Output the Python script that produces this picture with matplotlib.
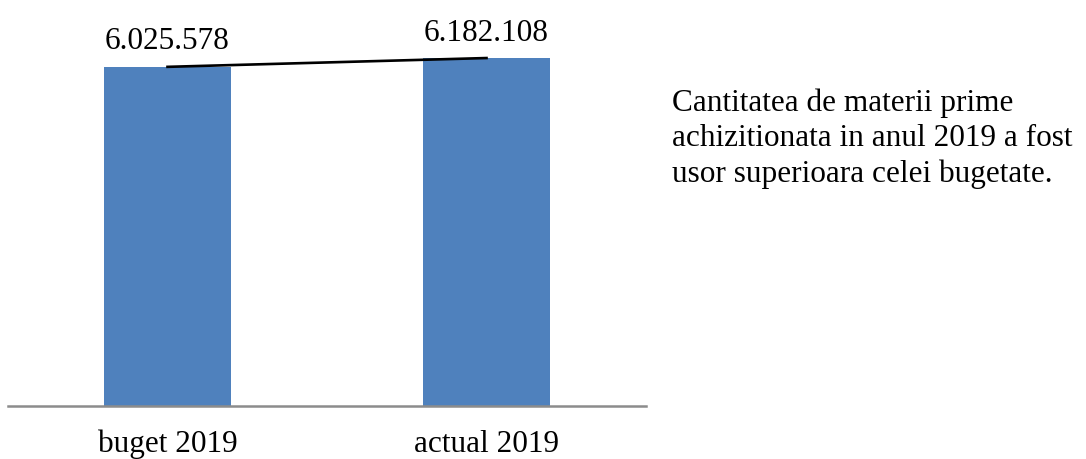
import matplotlib
matplotlib.use("Agg")
import matplotlib.pyplot as plt

# date
categorii = ["buget 2019", "actual 2019"]
valori = [6025578, 6182108]
etichete = ["6.025.578", "6.182.108"]
comentariu = ("Cantitatea de materii prime\n"
              "achizitionata in anul 2019 a fost\n"
              "usor superioara celei bugetate.")

plt.rcParams["font.family"] = ["Liberation Serif", "DejaVu Serif"]

fig = plt.figure(figsize=(10.86, 4.59), dpi=100)
W, H = 1086, 459
ax = fig.add_axes([8 / W, (H - 406) / H, (646 - 8) / W, 394 / H])

x = range(len(categorii))
ax.bar(x, valori, width=0.4, color="#4F81BD", zorder=2)
ax.plot(list(x), valori, color="black", linewidth=1.9, zorder=3)

for i, (v, t) in enumerate(zip(valori, etichete)):
    ax.annotate(t, (i, v), xytext=(0, 12.5), textcoords="offset points",
                ha="center", va="baseline", fontsize=22.5)

ax.set_xlim(-0.5, 1.5)
ax.set_ylim(0, 7000000)
ax.set_xticks(list(x))
ax.set_xticklabels(categorii, fontsize=22.5)
ax.tick_params(axis="x", length=0, pad=17)
ax.set_yticks([])
for s in ["top", "right", "left"]:
    ax.spines[s].set_visible(False)
ax.spines["bottom"].set_color("#8C8C8C")
ax.spines["bottom"].set_linewidth(1.8)

fig.text(672 / W, 1 - 89 / H, comentariu, ha="left", va="top",
         fontsize=22.5, linespacing=1.27)

fig.savefig("out.png", dpi=100)
